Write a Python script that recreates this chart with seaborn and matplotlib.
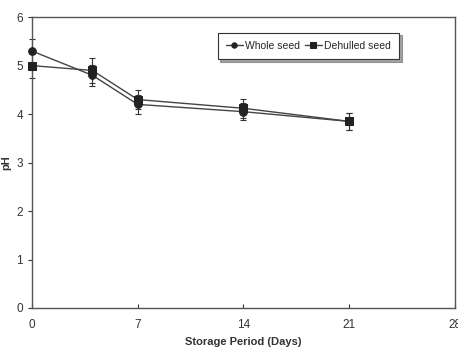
import pandas as pd
import seaborn as sns
import matplotlib.pyplot as plt

days = [0, 4, 7, 14, 21]
whole_seed = [5.3, 4.8, 4.2, 4.05, 3.85]
dehulled_seed = [5.0, 4.9, 4.3, 4.12, 3.85]
whole_err = [0.25, 0.22, 0.2, 0.18, 0.18]
dehulled_err = [0.25, 0.25, 0.2, 0.2, 0.18]

df = pd.DataFrame({
    'day': days * 2,
    'ph': whole_seed + dehulled_seed,
    'err': whole_err + dehulled_err,
    'group': ['Whole seed'] * len(days) + ['Dehulled seed'] * len(days),
})

sns.set_style('white')
plt.rcParams['font.family'] = ['Liberation Sans Narrow', 'Liberation Sans', 'DejaVu Sans']

fig = plt.figure(figsize=(4.58, 3.5), dpi=100)
ax = fig.add_axes([0.07, 0.12, 0.923, 0.831])

styles = {'Whole seed': 'o', 'Dehulled seed': 's'}
for name, sub in df.groupby('group', sort=False):
    eb = ax.errorbar(sub['day'], sub['ph'], yerr=sub['err'], fmt='none',
                     ecolor='#333333', elinewidth=0.8, capsize=2, capthick=0.8, zorder=2)
    for art in eb.lines[1] + eb.lines[2]:
        art.set_clip_on(False)

sns.lineplot(data=df, x='day', y='ph', hue='group', style='group',
             markers=styles, dashes=False, palette=['#444444', '#444444'],
             markeredgecolor='#222222', markerfacecolor='#222222',
             markersize=5.5, linewidth=1.0, ax=ax, zorder=3, clip_on=False)

ax.set_xlim(0, 28)
ax.set_ylim(0, 6)
ax.set_xticks([0, 7, 14, 21, 28])
ax.set_yticks(range(0, 7))
ax.tick_params(axis='both', labelsize=8.5, colors='#333333', length=3)
ax.tick_params(axis='x', direction='in', pad=8)
ax.tick_params(axis='y', direction='out', left=True)
ax.tick_params(axis='x', bottom=True)
for sp in ax.spines.values():
    sp.set_color('#555555')
    sp.set_linewidth(1.0)

ax.set_xlabel('Storage Period (Days)', fontsize=8, fontweight='bold', color='#333333')
ax.set_ylabel('pH', fontsize=8, fontweight='bold', color='#333333', labelpad=4)

leg = ax.legend(loc='upper right', bbox_to_anchor=(0.88, 0.965), ncol=2,
                frameon=True, fancybox=False, shadow=True, fontsize=7.5,
                handlelength=1.6, handletextpad=0.2, columnspacing=0.5,
                borderpad=0.8, markerscale=0.7, title=None)
leg.get_frame().set_edgecolor('#333333')
leg.get_frame().set_linewidth(0.8)

fig.savefig('out.png', dpi=100)
